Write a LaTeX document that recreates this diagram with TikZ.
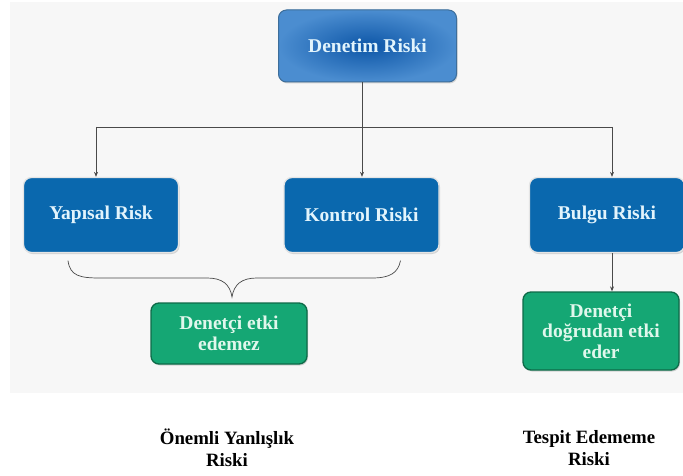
\documentclass[tikz,border=0pt]{standalone}
\usepackage{fontspec}
\setmainfont{Liberation Serif}
\usepackage{xcolor}
\usetikzlibrary{shadows,arrows.meta,calc}

\definecolor{bggray}{HTML}{F7F7F7}
\definecolor{riskblue}{HTML}{0A68AE}
\definecolor{toplight}{HTML}{4B8DD0}
\definecolor{topdark}{HTML}{0D56A7}
\definecolor{topedge}{HTML}{3E6E9A}
\definecolor{riskgreen}{HTML}{15A774}
\definecolor{greenedge}{HTML}{0E6A48}
\definecolor{bluetext}{HTML}{E2F4FC}
\definecolor{greentext}{HTML}{E0F7EC}
\definecolor{linegray}{HTML}{4A4A4A}

\begin{document}
\begin{tikzpicture}[x=1pt,y=-1pt,
  bluebox/.style={rounded corners=8pt, fill=riskblue, draw=white!80!gray, line width=1.3pt,
    minimum width=155pt, minimum height=75pt, text=bluetext, align=center,
    font=\bfseries\fontsize{19.5}{21}\selectfont,
    drop shadow={opacity=0.3, shadow xshift=1pt, shadow yshift=-1.5pt}},
  topbox/.style={bluebox, shading=radial, inner color=topdark, outer color=toplight,
    draw=topedge, line width=1pt, minimum width=178pt, minimum height=72pt},
  greenbox/.style={bluebox, fill=riskgreen, draw=greenedge, text=greentext,
    minimum width=156pt, minimum height=61pt, font=\bfseries\fontsize{19.5}{21.5}\selectfont},
  line/.style={draw=linegray, line width=0.7pt},
  arrow/.style={line, -{Stealth[length=5pt,width=4pt]}},
  caption/.style={align=center, font=\bfseries\fontsize{18.8}{22}\selectfont}]

  % page and gray background
  \useasboundingbox (0,0) rectangle (683,476);
  \fill[bggray] (10,2) rectangle (683,393);

  % boxes
  \node[topbox] (denetim) at (367.5,46) {Denetim Riski};
  \node[bluebox] (yapisal) at (101,215) {Yap\i sal Risk};
  \node[bluebox] (kontrol) at (361.5,215) {Kontrol Riski};
  \node[bluebox] (bulgu) at (607,215) {Bulgu Riski};
  \node[greenbox] (etkiyok) at (229,333.5) {Denetçi etki\\edemez};
  \node[greenbox, minimum height=78pt, font=\bfseries\fontsize{19.5}{20.5}\selectfont]
    (etkivar) at (601,331) {Denetçi\\doğrudan etki\\eder};

  % tree lines
  \coordinate (bar) at (362,127);
  \coordinate (barl) at (96,127);
  \coordinate (barr) at (612,127);
  \draw[line] (denetim.south -| bar) -- (bar);
  \draw[line] (barl) -- (barr);
  \draw[arrow] (barl) -- (barl |- yapisal.north);
  \draw[arrow] (bar) -- (bar |- kontrol.north);
  \draw[arrow] (barr) -- (barr |- bulgu.north);
  \draw[arrow] (bulgu.south -| barr) -- (barr |- etkivar.north);

  % brace under the two boxes
  \coordinate (cusp) at (232,297);
  \draw[line] ($(yapisal.south)+(-33,7.5)$) .. controls (70,276) and (80,278) .. (100,278)
    -- (207,278) .. controls (222,278) and (230,284) .. (cusp)
    .. controls (234,284) and (242,278) .. (257,278)
    -- (372,278) .. controls (390,278) and (398,273) .. ($(kontrol.south)+(39,7.5)$);

  % captions
  \node[caption] (onemli) at (227,448) {Önemli Yanlışlık\\Riski};
  \node[caption] (tespit) at (589,448) {Tespit Edememe\\Riski};
\end{tikzpicture}
\end{document}
